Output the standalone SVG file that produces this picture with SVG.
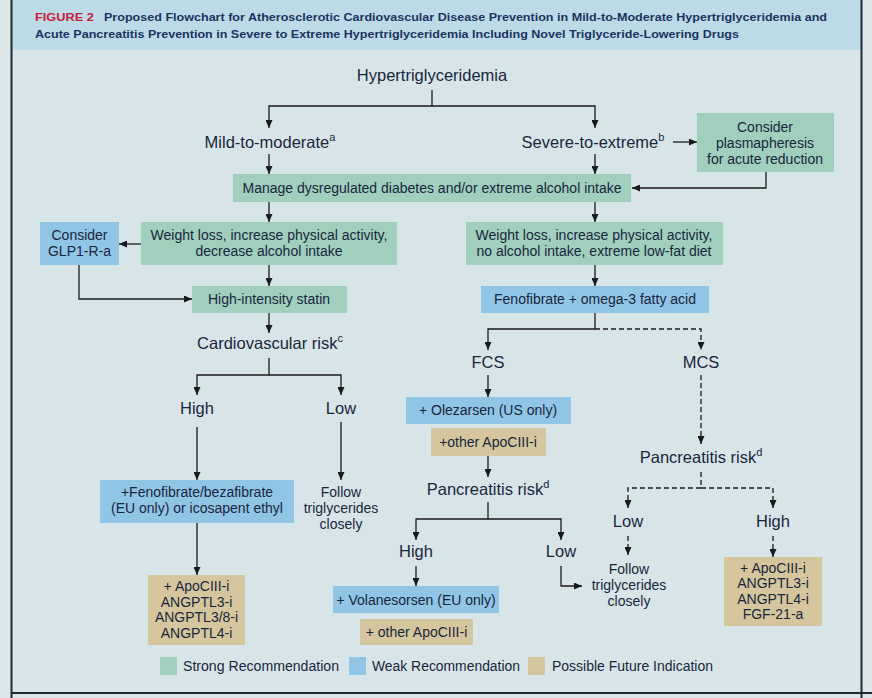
<svg xmlns="http://www.w3.org/2000/svg" width="872" height="698" viewBox="0 0 872 698">
<defs>
<marker id="ah" viewBox="0 0 8 7" refX="8" refY="3.5" markerWidth="8" markerHeight="7" markerUnits="userSpaceOnUse" orient="auto">
<path d="M0,0 L8,3.5 L0,7 z" fill="#1a1a1a"/>
</marker>
<style>
.ln{fill:none;stroke:#1a1a1a;stroke-width:1.3}
.ds{fill:none;stroke:#1a1a1a;stroke-width:1.3;stroke-dasharray:5,3}
.ar{marker-end:url(#ah)}
.strong{fill:#a0cfbd}
.weak{fill:#90c5e6}
.future{fill:#d5c69d}
text{font-family:"Liberation Sans",Arial,sans-serif;fill:#18263d}
.lb{font-size:16.5px;text-anchor:middle}
.bx{font-size:14px;text-anchor:middle}
.sup{font-size:11px}
.tt{font-size:10.5px;font-weight:bold;fill:#1c3262}
.lg{font-size:14px}
</style>
</defs>
<rect x="0" y="0" width="872" height="698" fill="#dde7ea"/>
<rect x="12" y="0" width="849" height="693" fill="#d8e5e8"/>
<rect x="12" y="0" width="849" height="50" fill="#bddbe6"/>
<line x1="11.5" y1="0" x2="11.5" y2="698" stroke="#1f2a33" stroke-width="2"/>
<line x1="861.5" y1="0" x2="861.5" y2="698" stroke="#1f2a33" stroke-width="2"/>
<line x1="11" y1="693" x2="872" y2="693" stroke="#1f2a33" stroke-width="2"/>

<g id="title">
<text x="35" y="21" class="tt" style="fill:#c8203c" textLength="59" lengthAdjust="spacingAndGlyphs">FIGURE 2</text>
<text x="104" y="21" class="tt" textLength="723" lengthAdjust="spacingAndGlyphs">Proposed Flowchart for Atherosclerotic Cardiovascular Disease Prevention in Mild-to-Moderate Hypertriglyceridemia and</text>
<text x="35" y="38" class="tt" textLength="704" lengthAdjust="spacingAndGlyphs">Acute Pancreatitis Prevention in Severe to Extreme Hypertriglyceridemia Including Novel Triglyceride-Lowering Drugs</text>
</g>

<g id="connectors">
<path class="ln" d="M432,90 V106"/>
<path class="ln ar" d="M432,106 H269 V128"/>
<path class="ln ar" d="M432,106 H595 V128"/>
<path class="ln ar" d="M269,154 V174"/>
<path class="ln ar" d="M595,154 V174"/>
<path class="ln ar" d="M673,142 H697"/>
<path class="ln ar" d="M766,172 V188 H632"/>
<path class="ln ar" d="M269,202 V222"/>
<path class="ln ar" d="M595,202 V222"/>
<path class="ln ar" d="M141,244 H119"/>
<path class="ln ar" d="M79,265 V299 H192"/>
<path class="ln ar" d="M269,265 V286"/>
<path class="ln ar" d="M595,265 V286"/>
<path class="ln ar" d="M269,313 V333"/>
<path class="ln" d="M269,358 V375"/>
<path class="ln ar" d="M269,375 H197 V395"/>
<path class="ln ar" d="M269,375 H341 V395"/>
<path class="ln ar" d="M197,427 V480"/>
<path class="ln ar" d="M341,422 V480"/>
<path class="ln ar" d="M197,523 V575"/>
<path class="ln" d="M595,313 V329"/>
<path class="ln ar" d="M595,329 H488 V350"/>
<path class="ds ar" d="M595,329 H701 V350"/>
<path class="ln ar" d="M488,375 V397"/>
<path class="ln ar" d="M488,456 V477"/>
<path class="ln" d="M488,502 V519"/>
<path class="ln ar" d="M488,519 H416 V540"/>
<path class="ln ar" d="M488,519 H561 V540"/>
<path class="ln ar" d="M416,566 V586"/>
<path class="ln ar" d="M561,566 V586 H582"/>
<path class="ds ar" d="M701,375 V444"/>
<path class="ds" d="M701,472 V488"/>
<path class="ds ar" d="M701,488 H628 V508"/>
<path class="ds ar" d="M701,488 H773 V508"/>
<path class="ds ar" d="M628,536 V555"/>
<path class="ds ar" d="M773,536 V557"/>
</g>

<g id="hypertriglyceridemia"><text x="432" y="81" class="lb">Hypertriglyceridemia</text></g>
<g id="mild"><text x="270" y="148" class="lb">Mild-to-moderate<tspan class="sup" dy="-7">a</tspan></text></g>
<g id="severe"><text x="593" y="148" class="lb">Severe-to-extreme<tspan class="sup" dy="-7">b</tspan></text></g>
<g id="plasmapheresis">
<rect x="697" y="113" width="137" height="59" class="strong"/>
<text x="765" y="132" class="bx">Consider</text>
<text x="765" y="148" class="bx">plasmapheresis</text>
<text x="765" y="164" class="bx">for acute reduction</text>
</g>
<g id="manage">
<rect x="233" y="174" width="398" height="28" class="strong"/>
<text x="432" y="193" class="bx">Manage dysregulated diabetes and/or extreme alcohol intake</text>
</g>
<g id="weight-left">
<rect x="141" y="222" width="256" height="43" class="strong"/>
<text x="269" y="240" class="bx">Weight loss, increase physical activity,</text>
<text x="269" y="256" class="bx">decrease alcohol intake</text>
</g>
<g id="glp1">
<rect x="40" y="222" width="79" height="43" class="weak"/>
<text x="79.5" y="240" class="bx">Consider</text>
<text x="79.5" y="256" class="bx">GLP1-R-a</text>
</g>
<g id="statin">
<rect x="192" y="286" width="155" height="27" class="strong"/>
<text x="269" y="304" class="bx">High-intensity statin</text>
</g>
<g id="weight-right">
<rect x="466" y="222" width="257" height="43" class="strong"/>
<text x="594" y="240" class="bx">Weight loss, increase physical activity,</text>
<text x="594" y="256" class="bx">no alcohol intake, extreme low-fat diet</text>
</g>
<g id="fenofibrate-omega">
<rect x="481" y="286" width="228" height="27" class="weak"/>
<text x="595" y="304" class="bx">Fenofibrate + omega-3 fatty acid</text>
</g>
<g id="cv-risk"><text x="270" y="349" class="lb">Cardiovascular risk<tspan class="sup" dy="-7">c</tspan></text></g>
<g id="cv-high"><text x="197" y="414" class="lb">High</text></g>
<g id="cv-low"><text x="341" y="414" class="lb">Low</text></g>
<g id="fenofibrate-bezafibrate">
<rect x="100" y="480" width="194" height="43" class="weak"/>
<text x="197" y="497" class="bx">+Fenofibrate/bezafibrate</text>
<text x="197" y="513" class="bx">(EU only) or icosapent ethyl</text>
</g>
<g id="follow-left">
<text x="341" y="497" class="bx">Follow</text>
<text x="341" y="513" class="bx">triglycerides</text>
<text x="341" y="529" class="bx">closely</text>
</g>
<g id="future-left">
<rect x="148" y="575" width="97" height="70" class="future"/>
<text x="196.5" y="591" class="bx">+ ApoCIII-i</text>
<text x="196.5" y="607" class="bx">ANGPTL3-i</text>
<text x="196.5" y="622" class="bx">ANGPTL3/8-i</text>
<text x="196.5" y="638" class="bx">ANGPTL4-i</text>
</g>
<g id="fcs"><text x="488" y="368" class="lb">FCS</text></g>
<g id="mcs"><text x="701" y="368" class="lb">MCS</text></g>
<g id="olezarsen">
<rect x="406" y="397" width="165" height="27" class="weak"/>
<text x="488" y="415" class="bx">+ Olezarsen (US only)</text>
</g>
<g id="other-apociii-1">
<rect x="431" y="428" width="115" height="28" class="future"/>
<text x="488" y="447" class="bx">+other ApoCIII-i</text>
</g>
<g id="panc-risk-fcs"><text x="488" y="495" class="lb">Pancreatitis risk<tspan class="sup" dy="-7">d</tspan></text></g>
<g id="fcs-high"><text x="416" y="557" class="lb">High</text></g>
<g id="fcs-low"><text x="561" y="557" class="lb">Low</text></g>
<g id="volanesorsen">
<rect x="333" y="586" width="166" height="27" class="weak"/>
<text x="416" y="605" class="bx">+ Volanesorsen (EU only)</text>
</g>
<g id="other-apociii-2">
<rect x="360" y="619" width="113" height="26" class="future"/>
<text x="416.5" y="637" class="bx">+ other ApoCIII-i</text>
</g>
<g id="follow-right">
<text x="629" y="574" class="bx">Follow</text>
<text x="629" y="590" class="bx">triglycerides</text>
<text x="629" y="606" class="bx">closely</text>
</g>
<g id="panc-risk-mcs"><text x="701" y="463" class="lb">Pancreatitis risk<tspan class="sup" dy="-7">d</tspan></text></g>
<g id="mcs-low"><text x="628" y="527" class="lb">Low</text></g>
<g id="mcs-high"><text x="773" y="527" class="lb">High</text></g>
<g id="future-right">
<rect x="724" y="557" width="98" height="69" class="future"/>
<text x="773" y="573" class="bx">+ ApoCIII-i</text>
<text x="773" y="588" class="bx">ANGPTL3-i</text>
<text x="773" y="604" class="bx">ANGPTL4-i</text>
<text x="773" y="619" class="bx">FGF-21-a</text>
</g>

<g id="legend">
<rect x="160" y="657" width="17" height="18" class="strong"/>
<text x="183" y="671" class="lg" textLength="156" lengthAdjust="spacingAndGlyphs">Strong Recommendation</text>
<rect x="349" y="657" width="17" height="18" class="weak"/>
<text x="372" y="671" class="lg" textLength="148" lengthAdjust="spacingAndGlyphs">Weak Recommendation</text>
<rect x="528" y="657" width="17" height="18" class="future"/>
<text x="552" y="671" class="lg" textLength="161" lengthAdjust="spacingAndGlyphs">Possible Future Indication</text>
</g>
</svg>
